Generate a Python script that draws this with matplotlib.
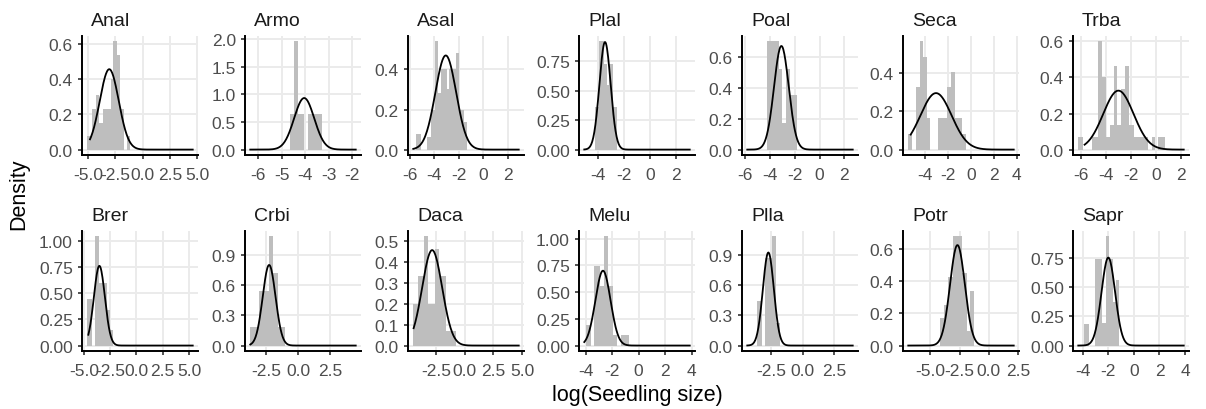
import numpy as np
import matplotlib
matplotlib.use('Agg')
import matplotlib.pyplot as plt

plt.rcParams['font.family'] = ['Liberation Sans', 'DejaVu Sans']
plt.rcParams['axes.unicode_minus'] = False

# ---- data ----
species = ['Anal', 'Armo', 'Asal', 'Plal', 'Poal', 'Seca', 'Trba',
           'Brer', 'Crbi', 'Daca', 'Melu', 'Plla', 'Potr', 'Sapr']

# fitted normal per species (mean, sd of log seedling size)
mu = [-3.07, -4.04, -3.05, -3.47, -3.09, -3.03, -3.02,
      -3.52, -2.25, -2.85, -2.69, -2.69, -2.68, -2.00]
sd = [0.873, 0.427, 0.849, 0.436, 0.595, 1.357, 1.22,
      0.525, 0.50, 0.877, 0.57, 0.433, 0.637, 0.532]
curve_lo = [-4.84, -6.33, -5.70, -5.08, -5.85, -5.24, -5.74,
            -4.57, -3.72, -4.47, -4.10, -4.35, -6.90, -4.35]
curve_hi = [4.60, -1.85, 2.90, 3.10, 2.68, 3.75, 2.24,
            5.35, 4.50, 4.72, 3.85, 3.95, 2.15, 3.90]

# histogram bins on the density scale
anal_edges = [-5.09, -4.69, -4.29, -3.99, -3.68, -2.90, -2.70, -2.40, -2.10, -1.75, -1.47, -1.17]
anal_dens = [0.076, 0.23, 0.31, 0.154, 0.23, 0.40, 0.615, 0.54, 0.23, 0, 0.076]
armo_edges = [-4.66, -4.49, -4.32, -4.03, -3.88, -3.30]
armo_dens = [0.65, 1.96, 0.65, 0, 0.65]
asal_edges = [-5.45, -5.10, -4.55, -4.25, -3.95, -3.68, -3.42, -2.95, -2.75, -2.25, -1.96, -1.60, -1.30]
asal_dens = [0.08, 0, 0.065, 0.2, 0.54, 0.28, 0.40, 0.30, 0.40, 0.48, 0.2, 0.137]
plal_edges = [-4.26, -3.95, -3.55, -3.29, -3.13, -2.82, -2.52]
plal_dens = [0.36, 0.92, 0.73, 0.55, 0.73, 0.36]
poal_edges = [-4.22, -3.32, -3.05, -2.73, -2.41, -1.84]
poal_dens = [0.70, 0.52, 0.175, 0.52, 0.354]
seca_edges = [-5.45, -5.10, -4.75, -4.44, -4.20, -3.85, -3.56, -2.88, -2.09, -1.71, -1.33, -0.73, -0.44]
seca_dens = [0.082, 0, 0.325, 0.563, 0.48, 0.163, 0, 0.163, 0.325, 0.405, 0.163, 0.082]
trba_edges = [-6.25, -5.85, -5.12, -4.67, -4.33, -4.0, -3.73, -3.41, -3.12, -2.8, -2.45,
              -2.13, -1.73, -0.67, -0.35, -0.06, 0.15, 0.7]
trba_dens = [0.069, 0, 0.069, 0.60, 0.40, 0.069, 0.136, 0.465, 0.136, 0.336, 0.465,
             0.136, 0.069, 0, 0.069, 0, 0.069]
brer_edges = [-4.67, -4.25, -3.93, -3.55, -2.81, -2.49, -2.23]
brer_dens = [0.447, 0, 1.04, 0.60, 0.34, 0.15]
crbi_edges = [-3.72, -3.03, -2.28, -1.97, -1.56, -1.0]
crbi_dens = [0.18, 0.54, 1.08, 0.72, 0.18]
daca_edges = [-4.5, -4.12, -3.59, -3.24, -2.56, -2.27, -1.68, -0.79]
daca_dens = [0.2, 0.33, 0.52, 0.2, 0.46, 0.33, 0.07]
melu_edges = [-4.0, -3.62, -3.4, -2.95, -2.6, -2.3, -1.97, -1.67, -1.3, -0.75]
melu_dens = [0.19, 0, 0.74, 0.56, 1.02, 0.56, 0.1, 0, 0.1]
plla_edges = [-3.58, -3.23, -2.96, -2.42, -2.07, -1.8]
plla_dens = [0.44, 0, 0.87, 1.08, 0.22]
potr_edges = [-4.2, -3.85, -3.5, -3.03, -2.31, -1.9, -1.6, -1.3]
potr_dens = [0.17, 0.25, 0.43, 0.68, 0.45, 0.09, 0.34]
sapr_edges = [-3.88, -3.54, -3.02, -2.49, -2.18, -1.92, -1.66, -1.4, -1.14]
sapr_dens = [0.18, 0, 0.74, 0.19, 0.93, 0.74, 0.37, 0.56]

x_ticks = [[-5, -2.5, 0, 2.5, 5], [-6, -5, -4, -3, -2], [-6, -4, -2, 0, 2], [-4, -2, 0, 2],
           [-6, -4, -2, 0, 2], [-4, -2, 0, 2, 4], [-6, -4, -2, 0, 2],
           [-5, -2.5, 0, 2.5, 5], [-2.5, 0, 2.5], [-2.5, 0, 2.5, 5], [-4, -2, 0, 2, 4],
           [-2.5, 0, 2.5], [-5, -2.5, 0, 2.5], [-4, -2, 0, 2, 4]]
y_ticks = [[0, 0.2, 0.4, 0.6], [0, 0.5, 1, 1.5, 2], [0, 0.2, 0.4], [0, 0.25, 0.5, 0.75],
           [0, 0.2, 0.4, 0.6], [0, 0.2, 0.4], [0, 0.2, 0.4, 0.6],
           [0, 0.25, 0.5, 0.75, 1], [0, 0.3, 0.6, 0.9], [0, 0.1, 0.2, 0.3, 0.4, 0.5],
           [0, 0.25, 0.5, 0.75, 1], [0, 0.3, 0.6, 0.9], [0, 0.2, 0.4, 0.6], [0, 0.25, 0.5, 0.75]]

hist = {
    'Anal': (anal_edges, anal_dens), 'Armo': (armo_edges, armo_dens),
    'Asal': (asal_edges, asal_dens), 'Plal': (plal_edges, plal_dens),
    'Poal': (poal_edges, poal_dens), 'Seca': (seca_edges, seca_dens),
    'Trba': (trba_edges, trba_dens), 'Brer': (brer_edges, brer_dens),
    'Crbi': (crbi_edges, crbi_dens), 'Daca': (daca_edges, daca_dens),
    'Melu': (melu_edges, melu_dens), 'Plla': (plla_edges, plla_dens),
    'Potr': (potr_edges, potr_dens), 'Sapr': (sapr_edges, sapr_dens),
}


def fmt(vals):
    # same number of decimals for every label on an axis, like R does
    dec = 0
    for v in vals:
        s = ('%.3f' % v).rstrip('0').rstrip('.')
        if '.' in s:
            dec = max(dec, len(s.split('.')[1]))
    return [f'{v:.{dec}f}' for v in vals]


def expand(lo, hi, mult=0.05):
    w = hi - lo
    return lo - mult * w, hi + mult * w


# ---- layout (pixels) ----
W, H = 1206, 410
col_left = [82, 245, 408, 579, 742, 903, 1073]
panel_w = 116
row_top = [37, 232]
row_h = [119, 120]

bar_col = '#BEBEBE'
grid_col = '#EBEBEB'
tick_col = '#4D4D4D'

fig = plt.figure(figsize=(W / 100, H / 100), dpi=100)

for i, name in enumerate(species):
    r, c = divmod(i, 7)
    ax = fig.add_axes([col_left[c] / W, 1 - (row_top[r] + row_h[r]) / H,
                       panel_w / W, row_h[r] / H])
    edges, dens = hist[name]
    edges = np.array(edges)
    ax.bar(edges[:-1], dens, width=np.diff(edges), align='edge',
           color=bar_col, linewidth=0, zorder=2)

    xs = np.linspace(curve_lo[i], curve_hi[i], 200)
    ys = np.exp(-0.5 * ((xs - mu[i]) / sd[i]) ** 2) / (sd[i] * np.sqrt(2 * np.pi))
    ax.plot(xs, ys, color='black', lw=1.3, zorder=3)

    ax.set_xlim(*expand(min(edges[0], curve_lo[i]), max(edges[-1], curve_hi[i])))
    ymax = max(max(dens), ys.max())
    ax.set_ylim(*expand(0, ymax))

    ax.set_xticks(x_ticks[i])
    ax.set_xticklabels(fmt(x_ticks[i]))
    ax.set_yticks(y_ticks[i])
    ax.set_yticklabels(fmt(y_ticks[i]))

    ax.set_axisbelow(True)
    ax.grid(True, color=grid_col, lw=1.4)
    ax.set_facecolor('white')
    for s in ['top', 'right']:
        ax.spines[s].set_visible(False)
    for s in ['left', 'bottom']:
        ax.spines[s].set_color('black')
        ax.spines[s].set_linewidth(1.4)
    ax.tick_params(length=3, width=1.2, color='#333333', pad=3.5,
                   labelsize=12.5, labelcolor=tick_col)
    ax.tick_params(axis='x', pad=5.5)

    ax.annotate(name, xy=(0, 1), xycoords='axes fraction', xytext=(6.5, 8),
                textcoords='offset points', ha='left', va='baseline',
                fontsize=14, color='#1A1A1A')

fig.text(637 / W, 1 - 401 / H, 'log(Seedling size)', ha='center', va='baseline',
         fontsize=15.5, color='black')
fig.text(19 / W, 1 - 194 / H, 'Density', ha='center', va='center',
         rotation=90, fontsize=15.5, color='black')

fig.savefig('out.png', dpi=100, facecolor='white')
